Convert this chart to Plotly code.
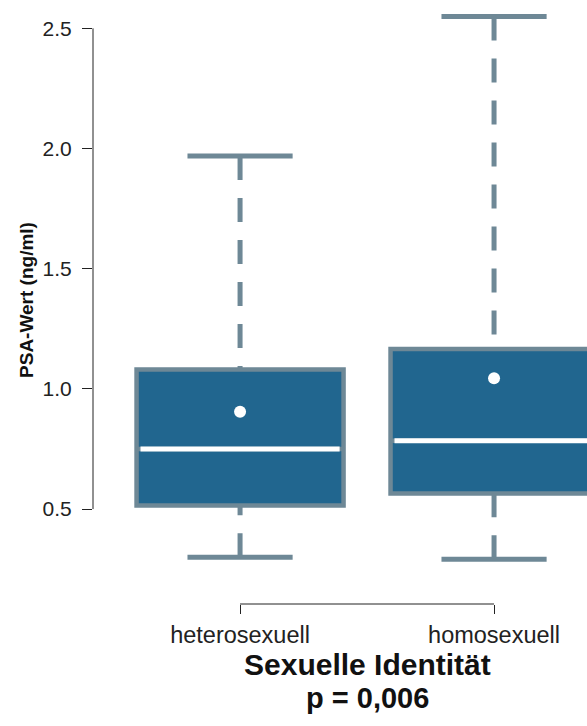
import plotly.graph_objects as go

# PSA values by sexual identity (summary statistics per group)
groups = ["heterosexuell", "homosexuell"]
q1 = [0.515, 0.565]
median = [0.750, 0.784]
q3 = [1.081, 1.166]
whisker_low = [0.299, 0.291]
whisker_high = [1.969, 2.549]
mean = [0.905, 1.044]

y_ticks = [0.5, 1.0, 1.5, 2.0, 2.5]
y_title = "PSA-Wert (ng/ml)"
x_title = "Sexuelle Identität"
p_text = "p = 0,006"

FILL = "#21668f"
EDGE = "#6e8896"
FONT = "Liberation Sans, Arial, sans-serif"
BOX_W = 0.815
CAP_HALF = 0.207
MED_HALF = 0.392
LW = 5

pos = list(range(len(groups)))

fig = go.Figure()

# box bodies
for i, g in enumerate(groups):
    fig.add_trace(go.Box(
        x=[pos[i]], q1=[q1[i]], median=[median[i]], q3=[q3[i]],
        lowerfence=[q1[i]], upperfence=[q3[i]],
        width=BOX_W, whiskerwidth=0, boxpoints=False,
        fillcolor=FILL, line=dict(color=EDGE, width=4.5),
        name=g, showlegend=False, hoverinfo="skip",
    ))

# dashed whiskers (drawn from the cap toward the box) and caps
for i in pos:
    for end, edge in ((whisker_high[i], q3[i]), (whisker_low[i], q1[i])):
        fig.add_trace(go.Scatter(
            x=[pos[i], pos[i]], y=[end, edge], mode="lines",
            line=dict(color=EDGE, width=LW, dash="24px,18px"),
            showlegend=False, hoverinfo="skip",
        ))
        fig.add_trace(go.Scatter(
            x=[pos[i] - CAP_HALF, pos[i] + CAP_HALF], y=[end, end], mode="lines",
            line=dict(color=EDGE, width=LW),
            showlegend=False, hoverinfo="skip",
        ))
    # white median line
    fig.add_trace(go.Scatter(
        x=[pos[i] - MED_HALF, pos[i] + MED_HALF], y=[median[i], median[i]],
        mode="lines", line=dict(color="white", width=LW),
        showlegend=False, hoverinfo="skip",
    ))

# group means
fig.add_trace(go.Scatter(
    x=pos, y=mean, mode="markers",
    marker=dict(color="white", size=12, line=dict(width=0)),
    showlegend=False, hoverinfo="skip",
))

fig.update_layout(
    width=587, height=726,
    margin=dict(l=93, r=0, t=0, b=122),
    paper_bgcolor="white", plot_bgcolor="white",
    font=dict(family=FONT, color="#222222"),
    xaxis=dict(
        range=[-0.579, 1.366], tickmode="array", tickvals=pos, ticktext=groups,
        ticks="outside", ticklen=9, tickwidth=1, tickcolor="#222222",
        showline=False, showgrid=False, zeroline=False,
        tickfont=dict(size=23.5, family=FONT, color="#222222"),
        ticklabelstandoff=1,
    ),
    yaxis=dict(
        range=[0.105, 2.618], tickmode="array", tickvals=y_ticks,
        ticktext=[f"{v:.1f}" for v in y_ticks],
        ticks="outside", ticklen=10, tickwidth=1, tickcolor="#222222",
        showline=False, showgrid=False, zeroline=False,
        tickfont=dict(size=21, family=FONT, color="#222222"),
        ticklabelstandoff=6,
    ),
    shapes=[
        # x axis bracket between the two groups
        dict(type="line", xref="x", yref="paper", x0=pos[0], x1=pos[-1], y0=0, y1=0,
             line=dict(color="#222222", width=1)),
        # y axis line spanning the tick range
        dict(type="line", xref="paper", yref="y", x0=0, x1=0, y0=y_ticks[0], y1=y_ticks[-1],
             line=dict(color="#222222", width=1)),
    ],
    annotations=[
        dict(text=f"<b>{y_title}</b>", textangle=-90, xref="paper", yref="y",
             x=0, y=1.37, xshift=-66, xanchor="center", yanchor="middle",
             showarrow=False, font=dict(size=19, family=FONT, color="#111111")),
        dict(text=f"<b>{x_title}</b>", xref="x", yref="paper",
             x=(pos[0] + pos[-1]) / 2, y=0, yshift=-42, xanchor="center", yanchor="top",
             showarrow=False, font=dict(size=30, family=FONT, color="#111111")),
        dict(text=f"<b>{p_text}</b>", xref="x", yref="paper",
             x=(pos[0] + pos[-1]) / 2, y=0, yshift=-76, xanchor="center", yanchor="top",
             showarrow=False, font=dict(size=29, family=FONT, color="#111111")),
    ],
)

fig.write_html("out.html")
